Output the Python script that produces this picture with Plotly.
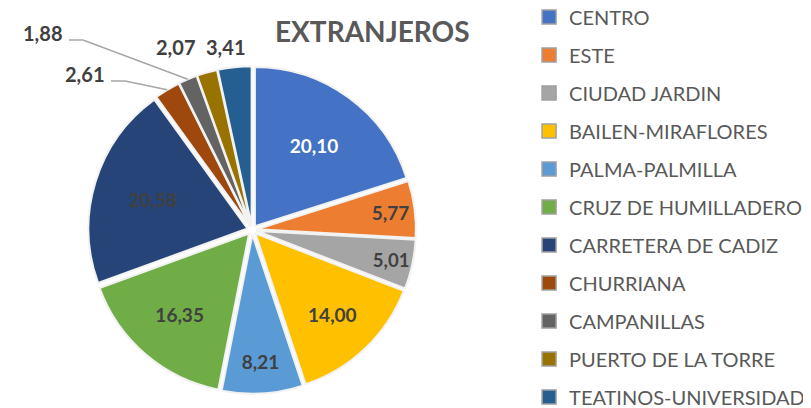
import math
import plotly.graph_objects as go

categories = ["CENTRO", "ESTE", "CIUDAD JARDIN", "BAILEN-MIRAFLORES", "PALMA-PALMILLA",
              "CRUZ DE HUMILLADERO", "CARRETERA DE CADIZ", "CHURRIANA", "CAMPANILLAS",
              "PUERTO DE LA TORRE", "TEATINOS-UNIVERSIDAD"]
values = [20.10, 5.77, 5.01, 14.00, 8.21, 16.35, 20.58, 2.61, 1.88, 2.07, 3.41]
colors = ["#4472C4", "#ED7D31", "#A5A5A5", "#FFC000", "#5B9BD5", "#70AD47",
          "#264478", "#9E480E", "#636363", "#997300", "#255E91"]
label_colors = ["#FFFFFF", "#404040", "#404040", "#404040", "#404040", "#404040",
                "#404040", "#404040", "#404040", "#404040", "#404040"]
text_positions = ["inside"] * 7 + ["none"] * 4
title = "EXTRANJEROS"

W, H = 811, 408
FONT = "Lato, 'Open Sans', sans-serif"
DOM_X = [0.099, 0.503]
DOM_Y = [0.054, 0.858]
PULL = 0.03

fig = go.Figure()
fig.add_trace(go.Pie(
    labels=categories, values=values, sort=False, direction="clockwise", rotation=0,
    marker=dict(colors=colors, line=dict(color="#F2F2F2", width=2)),
    pull=[PULL] * len(values),
    texttemplate="<b>%{value:.2f}</b>", textposition=text_positions,
    insidetextorientation="horizontal",
    textfont=dict(family=FONT, size=19, color=label_colors),
    domain=dict(x=DOM_X, y=DOM_Y),
    showlegend=False, hoverinfo="label+value",
))
for lab, col in zip(categories, colors):
    fig.add_trace(go.Scatter(x=[None], y=[None], mode="markers", name=lab, legendgroup=lab,
                             marker=dict(symbol="square", size=14, color=col,
                                         line=dict(color="#A0A0A0", width=1.5))))

# pie geometry (same rules as plotly.js) to attach outside labels to their slices
cx = W * (DOM_X[0] + DOM_X[1]) / 2
cy = H * (1 - (DOM_Y[0] + DOM_Y[1]) / 2)
r = min(W * (DOM_X[1] - DOM_X[0]), H * (DOM_Y[1] - DOM_Y[0])) / 2 / (1 + PULL)
total = sum(values)


def slice_tip(i):
    before = sum(values[:i])
    th = 2 * math.pi * (before + values[i] / 2) / total
    R = r * (1 + PULL)
    return cx + R * math.sin(th), cy - R * math.cos(th)


def px(x, y):
    return x / W, 1 - y / H


# outside label placement (pixel centres) and leader lines
outside = {7: ((76, 66), True), 8: ((34, 25), True), 9: ((167, 39), False), 10: ((217, 39), False)}
annotations = [dict(text="<b>" + title + "</b>", x=364 / W, y=1 - 23 / H,
                    xref="paper", yref="paper", showarrow=False, yanchor="middle",
                    font=dict(family=FONT, size=28, color="#595959"))]
shapes = []
for i, ((lx, ly), leader) in outside.items():
    txt = f"{values[i]:.2f}".replace(".", ",")
    x0, y0 = px(lx, ly)
    annotations.append(dict(text="<b>" + txt + "</b>", x=x0, y=y0, xref="paper", yref="paper",
                            showarrow=False, xanchor="center", yanchor="middle",
                            font=dict(family=FONT, size=20, color="#404040")))
    if leader:
        tx, ty = slice_tip(i)
        sx, sy = lx + 27, ly + 7
        p = [px(sx, sy), px(sx + 14, sy), px(tx, ty)]
        path = "M " + " L ".join(f"{a:.5f},{b:.5f}" for a, b in p)
        shapes.append(dict(type="path", path=path, xref="paper", yref="paper",
                           line=dict(color="#A6A6A6", width=1.5)))

fig.update_layout(
    width=W, height=H, margin=dict(l=0, r=0, t=0, b=0, autoexpand=False),
    paper_bgcolor="white", plot_bgcolor="white", separators=",.",
    xaxis=dict(visible=False), yaxis=dict(visible=False),
    legend=dict(x=0.6425, y=1.026, xanchor="left", yanchor="top", tracegroupgap=9,
                maxheight=600, font=dict(family=FONT, size=20, color="#595959"), itemwidth=30,
                bgcolor="rgba(0,0,0,0)", borderwidth=0),
    annotations=annotations, shapes=shapes,
)
fig.write_html("out.html")
